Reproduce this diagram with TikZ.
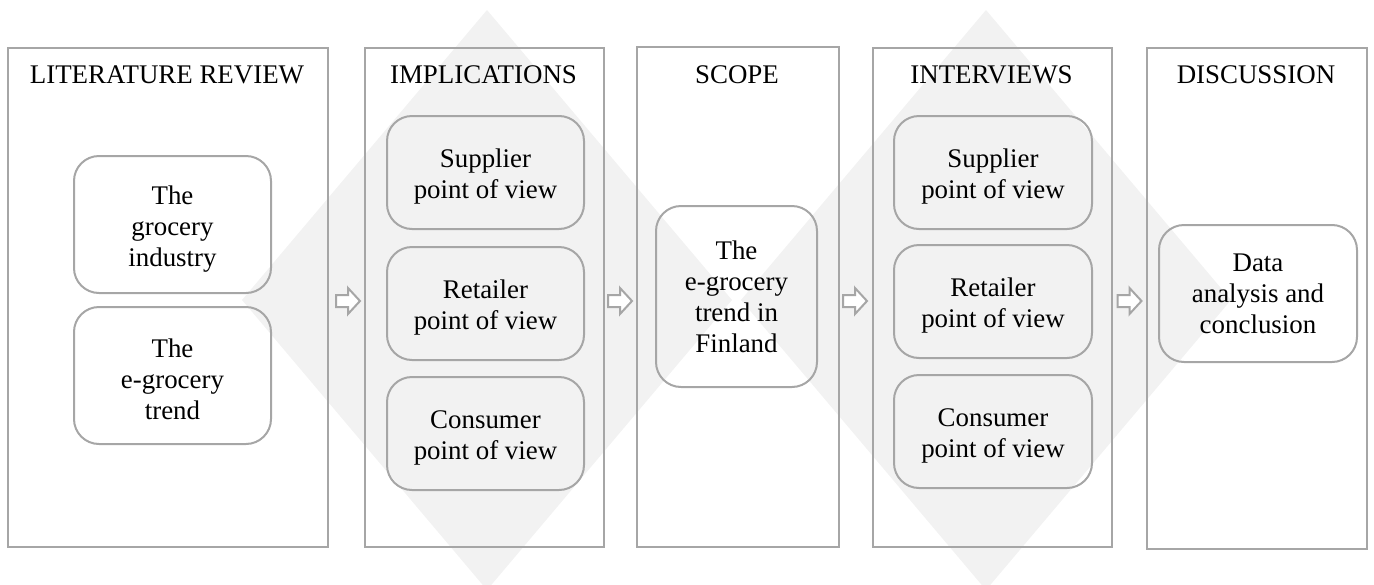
\documentclass[tikz,border=0pt]{standalone}
\usepackage{fontspec}
\setmainfont{Liberation Serif}
\definecolor{edge}{HTML}{A6A6A6}
\definecolor{haze}{HTML}{F2F2F2}
% taller first line, so the card text sits a little lower
\newcommand\cardstrut{\rule{0pt}{27pt}}
\tikzset{
  column/.style={draw=edge, line width=2pt, inner sep=0pt, anchor=north west},
  heading/.style={anchor=base, inner sep=0pt},
  card/.style={draw=edge, line width=2pt, rounded corners=25pt, inner sep=0pt,
    align=center},
  pics/flowarrow/.style={code={
    \draw[edge, line width=2pt, fill=white, line join=miter]
      (-12,-6) -- (0,-6) -- (0,-13) -- (12,0) -- (0,13) -- (0,6) -- (-12,6) -- cycle;
  }}
}
\begin{document}
\begin{tikzpicture}[x=1pt, y=-1pt, font=\fontsize{26.9}{31}\selectfont]
\useasboundingbox (0,0) rectangle (1374,584);

% background diamonds
\begin{scope}
  \clip (0,0) rectangle (1374,584);
  \fill[haze] (487,10) -- (732,300) -- (487,590) -- (242,300) -- cycle;
  \fill[haze] (986,10) -- (1231,300) -- (986,590) -- (741,300) -- cycle;
\end{scope}

% columns
\node[column, minimum width=320pt, minimum height=499pt] (lit) at (7,47) {};
\node[column, minimum width=239pt, minimum height=499pt] (impl) at (364,47) {};
\node[column, minimum width=202pt, minimum height=500pt] (scope) at (636,46) {};
\node[column, minimum width=239pt, minimum height=499pt] (intv) at (872,47) {};
\node[column, minimum width=220pt, minimum height=501pt] (disc) at (1146,47) {};

% column headings
\node[heading] (litT) at (167,83) {LITERATURE REVIEW};
\node[heading] (implT) at (483.5,83) {IMPLICATIONS};
\node[heading] (scopeT) at (737,83) {SCOPE};
\node[heading] (intvT) at (991.5,83) {INTERVIEWS};
\node[heading] (discT) at (1256,83) {DISCUSSION};

% literature review
\node[card, minimum width=197pt, minimum height=137pt] (grocery) at (172.5,224.5)
  {\cardstrut The\\grocery\\industry};
\node[card, minimum width=197pt, minimum height=137pt] (egrocery) at (172.5,375.5)
  {\cardstrut The\\e-grocery\\trend};

% implications
\node[card, minimum width=197pt, minimum height=113pt] (impSup) at (485.5,172.5)
  {\cardstrut Supplier\\point of view};
\node[card, minimum width=197pt, minimum height=113pt] (impRet) at (485.5,303.5)
  {\cardstrut Retailer\\point of view};
\node[card, minimum width=197pt, minimum height=113pt] (impCon) at (485.5,433.5)
  {\cardstrut Consumer\\point of view};

% scope
\node[card, minimum width=161pt, minimum height=181pt] (finland) at (736.5,296.5)
  {The\\e-grocery\\trend in\\Finland};

% interviews
\node[card, minimum width=198pt, minimum height=113pt] (intSup) at (993,172.5)
  {\cardstrut Supplier\\point of view};
\node[card, minimum width=198pt, minimum height=113pt] (intRet) at (993,301.5)
  {\cardstrut Retailer\\point of view};
\node[card, minimum width=198pt, minimum height=113pt] (intCon) at (993,431.5)
  {\cardstrut Consumer\\point of view};

% discussion
\node[card, minimum width=198pt, minimum height=137pt] (analysis) at (1258,293.5)
  {Data\\analysis and\\conclusion};

% arrows between the columns
\coordinate (a1) at (348,301);
\coordinate (a2) at (620,301);
\coordinate (a3) at (855,301);
\coordinate (a4) at (1129.5,301);
\foreach \a in {a1,a2,a3,a4} \pic at (\a) {flowarrow};
\end{tikzpicture}
\end{document}
